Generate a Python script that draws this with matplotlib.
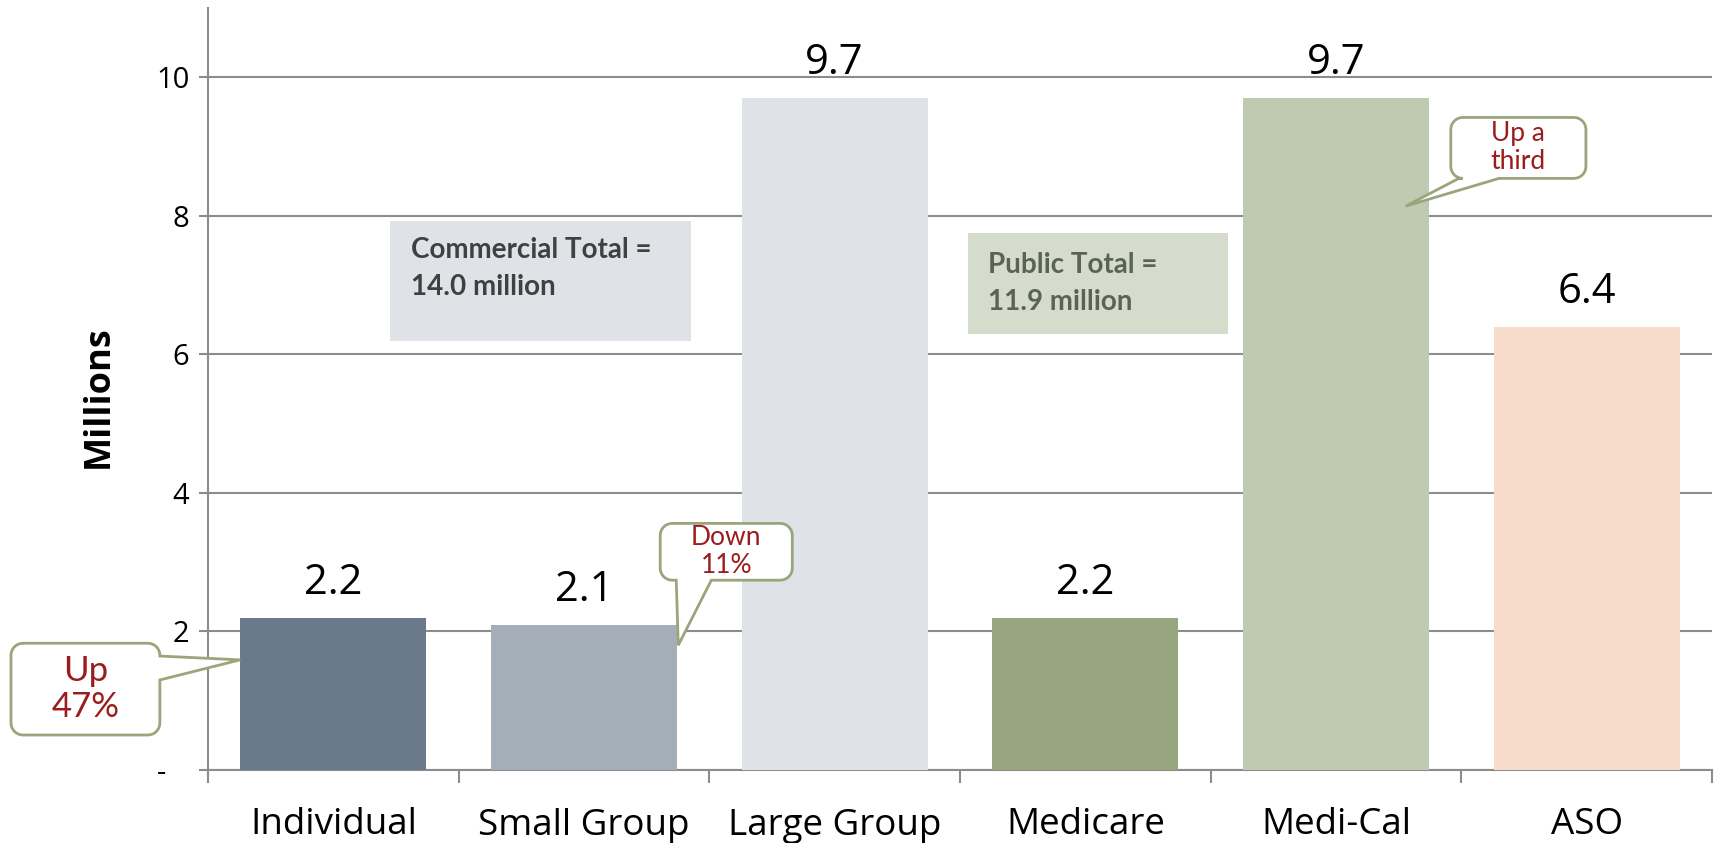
"""Enrollment by market segment, bar chart with callouts."""

import matplotlib
matplotlib.use('Agg')
import matplotlib.pyplot as plt
import numpy as np
from matplotlib.patches import Polygon, Rectangle
from matplotlib.transforms import IdentityTransform

plt.rcParams['font.family'] = ['Open Sans', 'DejaVu Sans']

# Data
categories = ['Individual', 'Small Group', 'Large Group', 'Medicare', 'Medi-Cal', 'ASO']
values = [2.2, 2.1, 9.7, 2.2, 9.7, 6.4]
bar_colors = ['#6a7a8b', '#a5afb9', '#dfe3e8', '#97a67e', '#c0cab0', '#f8dccb']
y_ticks = [0, 2, 4, 6, 8, 10]
y_tick_labels = ['-   ', '2', '4', '6', '8', '10']

GRID = '#8c8c8c'
CALLOUT_EDGE = '#9ba57b'
CALLOUT_TEXT = '#9b1c1c'
NOTE_FONT = ['Lato', 'DejaVu Sans']


def callout(ax, box, tip, base, side, text, fontsize):
    """Rounded speech bubble drawn in pixel space from data-coord anchors."""
    tr = ax.transData.transform
    (L, B), (R, T) = tr((box[0], box[1])), tr((box[2], box[3]))
    tx, ty = tr(tip)
    b1, b2 = tr(base[0]), tr(base[1])
    r = 12
    pts = []

    def arc(cx, cy, a0, a1):
        for a in np.linspace(np.radians(a0), np.radians(a1), 8):
            pts.append((cx + r * np.cos(a), cy + r * np.sin(a)))

    pts.append((L + r, B))
    if side == 'bottom':
        xs = sorted([b1[0], b2[0]])
        pts += [(xs[0], B), (tx, ty), (xs[1], B)]
    arc(R - r, B + r, -90, 0)
    if side == 'right':
        ys = sorted([b1[1], b2[1]])
        pts += [(R, ys[0]), (tx, ty), (R, ys[1])]
    arc(R - r, T - r, 0, 90)
    arc(L + r, T - r, 90, 180)
    arc(L + r, B + r, 180, 270)

    poly = Polygon(pts, closed=True, facecolor='white', edgecolor=CALLOUT_EDGE,
                   linewidth=2, transform=IdentityTransform(), zorder=10, clip_on=False)
    ax.add_artist(poly)
    ax.text((box[0] + box[2]) / 2, (box[1] + box[3]) / 2, text, ha='center', va='center',
            fontsize=fontsize, color=CALLOUT_TEXT, linespacing=1.15, family=NOTE_FONT,
            clip_on=False, zorder=11)


fig = plt.figure(figsize=(17.15, 8.43), dpi=100)
ax = fig.add_axes([208 / 1715, 73 / 843, 1504 / 1715, 762 / 843])

x = np.arange(len(categories))
bars = ax.bar(x, values, width=0.742, color=bar_colors, zorder=3)

for bar, v in zip(bars, values):
    ax.text(bar.get_x() + bar.get_width() / 2, v + 0.2, f'{v:.1f}',
            ha='center', va='bottom', fontsize=30, color='black', zorder=4)

ax.set_xlim(-0.5, len(categories) - 0.5)
ax.set_ylim(0, 11)

# Axis styling
ax.set_yticks(y_ticks)
ax.set_yticklabels(y_tick_labels, fontsize=21)
ax.set_xticks(x)
ax.set_xticklabels(categories, fontsize=26.5)
ax.set_xticks(np.arange(-0.5, len(categories), 1), minor=True)
ax.tick_params(axis='x', which='major', length=0, pad=27)
ax.tick_params(axis='x', which='minor', length=9, width=1.5, color=GRID)
ax.tick_params(axis='y', length=6.5, width=1.5, color=GRID, pad=7)
ax.grid(True, axis='y', color=GRID, linewidth=1.5, zorder=0)
for s in ['top', 'right']:
    ax.spines[s].set_visible(False)
for s in ['left', 'bottom']:
    ax.spines[s].set_color(GRID)
    ax.spines[s].set_linewidth(1.5)
ax.set_ylabel('Millions', fontsize=26, weight='bold')
ax.yaxis.set_label_coords(-0.0605, 0.49)

# Total boxes
ax.add_patch(Rectangle((0.227, 6.19), 1.2, 1.73, facecolor='#dfe3e8', edgecolor='none', zorder=2))
ax.text(0.31, 7.70, 'Commercial Total =\n14.0 million', ha='left', va='top', family=NOTE_FONT,
        fontsize=20, weight='bold', color='#404040', linespacing=1.55, zorder=4)
ax.add_patch(Rectangle((2.53, 6.29), 1.04, 1.46, facecolor='#d5dccb', edgecolor='none', zorder=2))
ax.text(2.61, 7.48, 'Public Total =\n11.9 million', ha='left', va='top', family=NOTE_FONT,
        fontsize=20, weight='bold', color='#5b6452', linespacing=1.55, zorder=4)

# Callouts
callout(ax, (-1.286, 0.505, -0.692, 1.83), (-0.372, 1.59),
        [(-0.692, 1.30), (-0.692, 1.645)], 'right', 'Up\n47%', 25)
callout(ax, (1.304, 2.74, 1.831, 3.56), (1.376, 1.80),
        [(1.368, 2.74), (1.508, 2.74)], 'bottom', 'Down\n11%', 19)
callout(ax, (4.458, 8.54, 4.997, 9.42), (4.278, 8.14),
        [(4.49, 8.54), (4.65, 8.54)], 'bottom', 'Up a\nthird', 19)

fig.savefig('out.png', dpi=100)
plt.close(fig)
